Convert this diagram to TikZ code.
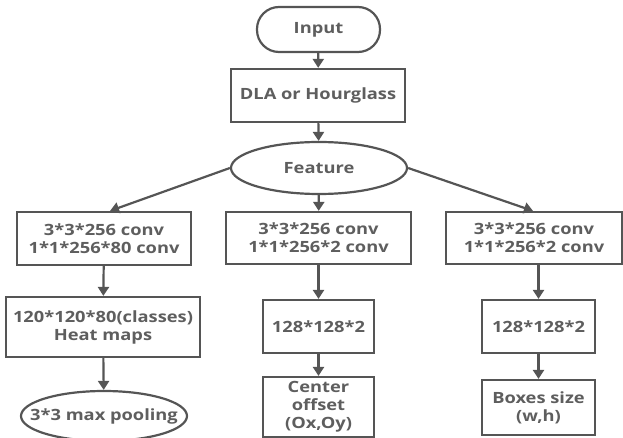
\documentclass[tikz,border=0pt]{standalone}
\usepackage{fontspec}
\setmainfont{Open Sans}[FakeStretch=1.18]
\usetikzlibrary{shapes.geometric,arrows.meta}
\definecolor{ln}{HTML}{555555}
\definecolor{tx}{HTML}{5E5E5E}
\tikzset{
  base/.style={draw=ln, line width=2.2pt, text=tx, font=\bfseries\fontsize{15.5}{18}\selectfont, align=center, inner sep=0pt},
  boxn/.style={base, rectangle},
  ell/.style={base, ellipse},
  arr/.style={draw=ln, line width=2.2pt, -{Triangle[width=11pt,length=9pt]}},
}
\begin{document}
\begin{tikzpicture}[x=1pt,y=-1pt]
\useasboundingbox (0,0) rectangle (623,438);
\node[boxn, rounded corners=22pt, minimum width=123pt, minimum height=45pt] (in) at (318.5,29.5) {Input};
\node[boxn, minimum width=174pt, minimum height=53pt] (dla) at (318,95.5) {DLA or Hourglass};
\node[ell, minimum width=176pt, minimum height=52pt] (feat) at (319,168) {Feature};
% left
\node[boxn, minimum width=174pt, minimum height=53pt] (l1) at (104,238.5) {3*3*256 conv\\1*1*256*80 conv};
\node[boxn, minimum width=194pt, minimum height=60pt] (l2) at (103,327) {120*120*80(classes)\\Heat maps};
\node[ell, inner xsep=-17pt, minimum width=166pt, minimum height=50pt] (l3) at (104,416) {3*3 max pooling};
% middle
\node[boxn, minimum width=185pt, minimum height=52pt] (m1) at (318.5,238) {3*3*256 conv\\1*1*256*2 conv};
\node[boxn, minimum width=111pt, minimum height=53pt] (m2) at (318.5,326.5) {128*128*2};
\node[boxn, minimum width=111pt, minimum height=60pt] (m3) at (318.5,407) {Center\\offset\\(Ox,Oy)};
% right
\node[boxn, minimum width=176pt, minimum height=52pt] (r1) at (534,238) {3*3*256 conv\\1*1*256*2 conv};
\node[boxn, minimum width=113pt, minimum height=53pt] (r2) at (538.5,326.5) {128*128*2};
\node[boxn, minimum width=113pt, minimum height=55pt] (r3) at (538.5,407.5) {Boxes size\\(w,h)};
% arrows
\draw[arr] (in) -- (dla);
\draw[arr] (dla) -- (feat);
\draw[arr] (feat.west) -- (l1.north -| 110,0);
\draw[arr] (feat) -- (m1);
\draw[arr] (feat.east) -- (r1.north -| 533,0);
\draw[arr] (l1) -- (l2);
\draw[arr] (l2) -- (l3);
\draw[arr] (m1) -- (m2);
\draw[arr] (m2) -- (m3);
\draw[arr] (r1.south -| r2.north) -- (r2);
\draw[arr] (r2) -- (r3);
\end{tikzpicture}
\end{document}
